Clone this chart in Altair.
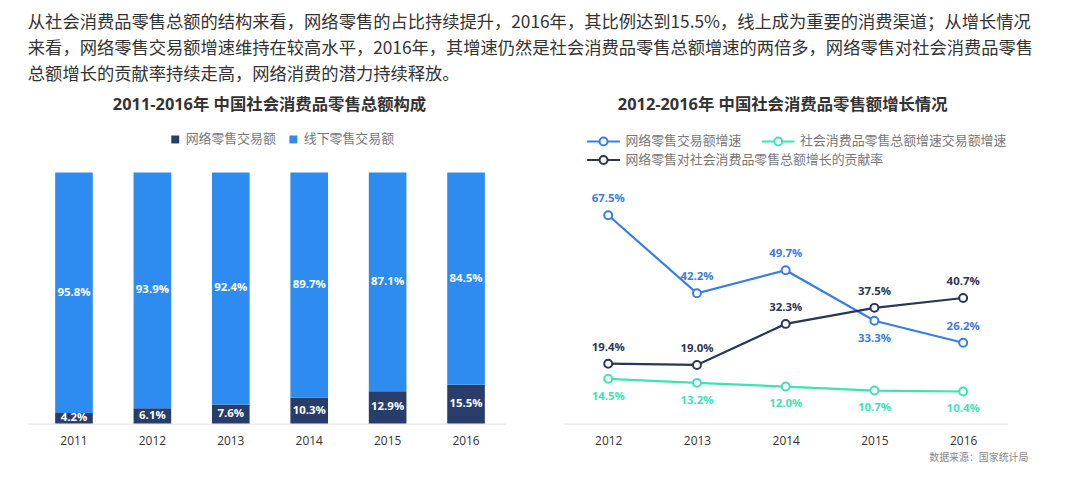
import altair as alt
import pandas as pd

intro_lines = [
    "从社会消费品零售总额的结构来看，网络零售的占比持续提升，2016年，其比例达到15.5%，线上成为重要的消费渠道；从增长情况",
    "来看，网络零售交易额增速维持在较高水平，2016年，其增速仍然是社会消费品零售总额增速的两倍多，网络零售对社会消费品零售",
    "总额增长的贡献率持续走高，网络消费的潜力持续释放。",
]
source_note = ["数据来源：国家统计局"]

bar_title = "2011-2016年 中国社会消费品零售总额构成"
bar_years = ["2011", "2012", "2013", "2014", "2015", "2016"]
bar_series = ["网络零售交易额", "线下零售交易额"]
online_share = [4.2, 6.1, 7.6, 10.3, 12.9, 15.5]
offline_share = [95.8, 93.9, 92.4, 89.7, 87.1, 84.5]

line_title = "2012-2016年 中国社会消费品零售额增长情况"
line_years = ["2012", "2013", "2014", "2015", "2016"]
line_series = ["网络零售交易额增速", "社会消费品零售总额增速交易额增速", "网络零售对社会消费品零售总额增长的贡献率"]
online_growth = [67.5, 42.2, 49.7, 33.3, 26.2]
total_growth = [14.5, 13.2, 12.0, 10.7, 10.4]
contribution = [19.4, 19.0, 32.3, 37.5, 40.7]

CJK = "Noto Sans CJK SC"
MIX = "Open Sans, Noto Sans CJK SC"
line_colors = ["#3a7de0", "#3ee3b2", "#2b3654"]


def build(use_encode):
    # ---------- left: stacked bars ----------
    bar_rows = []
    for i, yr in enumerate(bar_years):
        bar_rows.append({"year": yr, "series": bar_series[0], "ord": 0, "share": online_share[i]})
        bar_rows.append({"year": yr, "series": bar_series[1], "ord": 1, "share": offline_share[i]})
    bar_df = pd.DataFrame(bar_rows)

    bar_legend = alt.Legend(
        title=None, orient="none", legendX=142, legendY=-40, direction="horizontal",
        symbolType="square", symbolSize=64, labelFont=CJK, labelFontSize=13,
        labelColor="#777777", columnPadding=10, labelOffset=4,
    )
    bar_color = alt.Color("series:N", scale=alt.Scale(domain=bar_series, range=["#293d6b", "#2e8cf0"]),
                          legend=bar_legend)
    x_bar = alt.X("year:N", sort=bar_years, title=None,
                  scale=alt.Scale(paddingInner=0.52, paddingOuter=0.3043, align=0.572),
                  axis=alt.Axis(labelAngle=0, ticks=False, domainColor="#e0e0e0", labelColor="#333333",
                                labelFont=MIX, labelFontSize=12, labelPadding=12))
    y_bar_scale = alt.Scale(domain=[0, 100])

    bars = alt.Chart(bar_df).mark_bar().encode(
        x=x_bar,
        y=alt.Y("share:Q", stack="zero", scale=y_bar_scale, axis=None),
        color=bar_color,
        order=alt.Order("ord:Q", sort="ascending"),
    )
    bar_text = alt.Chart(bar_df).transform_window(
        cum="sum(share)", groupby=["year"], sort=[alt.SortField("ord")], frame=[None, 0]
    ).transform_calculate(
        mid="datum.cum - datum.share / 2",
        label="format(datum.share, '.1f') + '%'",
    ).mark_text(color="white", fontWeight="bold", font=MIX, fontSize=11.5, baseline="middle").encode(
        x=x_bar,
        y=alt.Y("mid:Q", scale=y_bar_scale, axis=None),
        text="label:N",
    )
    left = alt.layer(bars, bar_text).properties(
        width=481, height=253,
        title=alt.TitleParams(bar_title, font=MIX, fontSize=16.5, fontWeight="bold", color="#333333",
                              anchor="middle", frame="group", offset=19, dx=3),
    )

    # ---------- right: lines ----------
    line_rows = []
    for s, vals in zip(line_series, [online_growth, total_growth, contribution]):
        for i, yr in enumerate(line_years):
            line_rows.append({"year": yr, "series": s, "value": vals[i]})
    line_df = pd.DataFrame(line_rows)

    PATH = "M-1,0L1.5,0M3.1,0L5.6,0M1.5,0A0.8,0.8 0 1,1 3.1,0A0.8,0.8 0 1,1 1.5,0Z"
    common = dict(
        title=None, orient="none", direction="horizontal",
        symbolType=PATH, symbolSize=100, symbolStrokeWidth=2, symbolFillColor="white",
        labelFont=CJK, labelFontSize=13, labelColor="#777777",
        labelOffset=27, columnPadding=15, labelLimit=400,
    )
    if use_encode:
        common["encode"] = {"symbols": {"update": {"fill": {"value": "white"}, "fillOpacity": {"value": 1}}}}
    legend_a = alt.Legend(legendX=22, legendY=-38, values=line_series[:2], **common)
    legend_b = alt.Legend(legendX=22, legendY=-19, values=line_series[2:], **common)

    line_stroke = alt.Stroke("series:N",
                             scale=alt.Scale(domain=line_series, range=line_colors),
                             legend=legend_a)
    dom_b = [line_series[2], line_series[0], line_series[1]]
    rng_b = [line_colors[2], line_colors[0], line_colors[1]]
    point_color = alt.Color("series:N", scale=alt.Scale(domain=dom_b, range=rng_b), legend=legend_b)
    dom_c = [line_series[1], line_series[2], line_series[0]]
    rng_c = [line_colors[1], line_colors[2], line_colors[0]]
    text_fill = alt.Fill("series:N", scale=alt.Scale(domain=dom_c, range=rng_c), legend=None)

    x_line = alt.X("year:N", sort=line_years, title=None, scale=alt.Scale(type="point", padding=0.5),
                   axis=alt.Axis(labelAngle=0, ticks=False, domainColor="#e0e0e0", labelColor="#333333",
                                 labelFont=MIX, labelFontSize=12, labelPadding=12))
    y_line = alt.Y("value:Q", scale=alt.Scale(domain=[0, 81.35]), axis=None)

    base = alt.Chart(line_df).encode(x=x_line, y=y_line)
    lines = base.mark_line(strokeWidth=2.2).encode(stroke=line_stroke, detail="series:N")
    points = base.mark_point(shape="circle", filled=False, fill="white", fillOpacity=1, size=64,
                             strokeWidth=2, opacity=1).encode(color=point_color)
    below_expr = ("datum.series == '社会消费品零售总额增速交易额增速' || "
                  "(datum.series == '网络零售交易额增速' && datum.year == '2015')")
    labels_above = base.transform_filter("!(" + below_expr + ")").transform_calculate(
        label="format(datum.value, '.1f') + '%'"
    ).mark_text(dy=-16, fontWeight="bold", font=MIX, fontSize=11.5, baseline="middle").encode(
        text="label:N", fill=text_fill)
    labels_below = base.transform_filter(below_expr).transform_calculate(
        label="format(datum.value, '.1f') + '%'"
    ).mark_text(dy=18, fontWeight="bold", font=MIX, fontSize=11.5, baseline="middle").encode(
        text="label:N", fill=text_fill)

    note = alt.Chart(pd.DataFrame({"note": source_note})).mark_text(
        align="right", baseline="middle", font=CJK, fontSize=10, color="#888888"
    ).encode(x=alt.value(468), y=alt.value(288), text="note:N")

    right = alt.layer(lines, points, labels_above, labels_below, note).properties(
        width=447, height=253,
        title=alt.TitleParams(line_title, font=MIX, fontSize=16.5, fontWeight="bold", color="#333333",
                              anchor="middle", frame="group", offset=21, dx=-3),
    )

    ch = alt.hconcat(left, right, spacing=59).properties(
        title=alt.TitleParams(intro_lines, anchor="start", font=CJK, fontSize=17.4, lineHeight=26.5,
                              fontWeight="normal", color="#333333", offset=14),
        padding={"left": 20, "top": 4, "right": 45, "bottom": 0},
    ).configure_view(stroke=None).resolve_scale(
        color="independent", stroke="independent", fill="independent")
    ch.to_dict()
    return ch


try:
    chart = build(True)
except Exception:
    chart = build(False)

chart.save("out.html", embed_options={"renderer": "svg", "actions": False})
